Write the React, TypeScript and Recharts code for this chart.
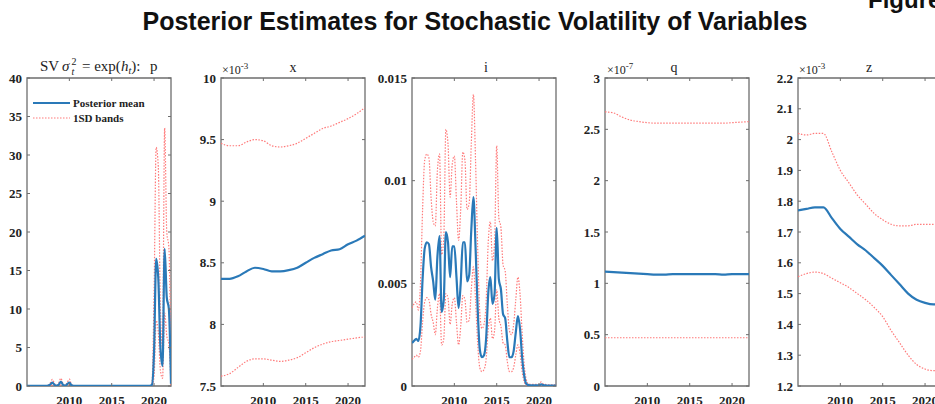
import React from 'react';
import { LineChart, Line, XAxis, YAxis, ReferenceArea, Legend } from 'recharts';

// ---------- categories ----------
const YEARS_Q = [
  2005, 2005.25, 2005.5, 2005.75, 2006, 2006.25, 2006.5, 2006.75,
  2007, 2007.25, 2007.5, 2007.75, 2008, 2008.25, 2008.5, 2008.75,
  2009, 2009.25, 2009.5, 2009.75, 2010, 2010.25, 2010.5, 2010.75,
  2011, 2011.25, 2011.5, 2011.75, 2012, 2012.25, 2012.5, 2012.75,
  2013, 2013.25, 2013.5, 2013.75, 2014, 2014.25, 2014.5, 2014.75,
  2015, 2015.25, 2015.5, 2015.75, 2016, 2016.25, 2016.5, 2016.75,
  2017, 2017.25, 2017.5, 2017.75, 2018, 2018.25, 2018.5, 2018.75,
  2019, 2019.25, 2019.5, 2019.75, 2020, 2020.25, 2020.5, 2020.75,
  2021, 2021.25, 2021.5, 2021.75, 2022,
];
const YEARS_A = [2005, 2006, 2007, 2008, 2009, 2010, 2011, 2012, 2013, 2014, 2015, 2016, 2017, 2018, 2019, 2020, 2021, 2022];
const X_TICKS = [2010, 2015, 2020];

// ---------- p ----------
const P_MEAN = [
  0.02, 0.02, 0.02, 0.02, 0.02, 0.02, 0.02, 0.02,
  0.02, 0.02, 0.05, 0.2, 0.45, 0.15, 0.05, 0.2,
  0.55, 0.15, 0.05, 0.25, 0.45, 0.1, 0.03, 0.02,
  0.02, 0.02, 0.02, 0.02, 0.02, 0.02, 0.02, 0.02,
  0.02, 0.02, 0.02, 0.02, 0.02, 0.02, 0.02, 0.02,
  0.02, 0.02, 0.02, 0.02, 0.02, 0.02, 0.02, 0.02,
  0.02, 0.02, 0.02, 0.02, 0.02, 0.02, 0.02, 0.02,
  0.02, 0.02, 0.03, 0.15, 4.5, 16.5, 14, 5,
  2.6, 17.8, 11.5, 10, 0.3,
];
const P_UP = [
  0.05, 0.05, 0.05, 0.05, 0.05, 0.05, 0.05, 0.05,
  0.05, 0.05, 0.1, 0.4, 0.85, 0.3, 0.1, 0.4,
  1.0, 0.3, 0.1, 0.45, 0.9, 0.2, 0.06, 0.05,
  0.05, 0.05, 0.05, 0.05, 0.05, 0.05, 0.05, 0.05,
  0.05, 0.05, 0.05, 0.05, 0.05, 0.05, 0.05, 0.05,
  0.05, 0.05, 0.05, 0.05, 0.05, 0.05, 0.05, 0.05,
  0.05, 0.05, 0.05, 0.05, 0.05, 0.05, 0.05, 0.05,
  0.05, 0.05, 0.06, 0.4, 12, 31, 28.5, 10,
  5, 33.5, 20, 18, 1,
];
const P_LO = [
  0.005, 0.005, 0.005, 0.005, 0.005, 0.005, 0.005, 0.005,
  0.005, 0.005, 0.01, 0.05, 0.12, 0.04, 0.01, 0.05,
  0.14, 0.04, 0.01, 0.06, 0.12, 0.03, 0.005, 0.005,
  0.005, 0.005, 0.005, 0.005, 0.005, 0.005, 0.005, 0.005,
  0.005, 0.005, 0.005, 0.005, 0.005, 0.005, 0.005, 0.005,
  0.005, 0.005, 0.005, 0.005, 0.005, 0.005, 0.005, 0.005,
  0.005, 0.005, 0.005, 0.005, 0.005, 0.005, 0.005, 0.005,
  0.005, 0.005, 0.006, 0.04, 1.2, 8.5, 7, 2,
  1.0, 9.5, 6.5, 5.5, 0.05,
];
const P_TICKS = [0, 5, 10, 15, 20, 25, 30, 35, 40];
const P_TICK_LABELS = ['0', '5', '10', '15', '20', '25', '30', '35', '40'];

// ---------- x (x 10^-3) ----------
const X_MEAN = [8.37, 8.37, 8.39, 8.43, 8.46, 8.45, 8.43, 8.43, 8.44, 8.46, 8.5, 8.54, 8.57, 8.6, 8.61, 8.65, 8.68, 8.72];
const X_UP = [9.47, 9.45, 9.45, 9.48, 9.5, 9.49, 9.45, 9.44, 9.45, 9.47, 9.51, 9.55, 9.59, 9.61, 9.64, 9.67, 9.71, 9.76];
const X_LO = [7.58, 7.6, 7.65, 7.7, 7.72, 7.72, 7.71, 7.7, 7.71, 7.73, 7.77, 7.81, 7.84, 7.86, 7.87, 7.88, 7.89, 7.9];
const X_YTICKS = [7.5, 8, 8.5, 9, 9.5, 10];
const X_YTICK_LABELS = ['7.5', '8', '8.5', '9', '9.5', '10'];

// ---------- i ----------
const I_MEAN = [
  0.0021, 0.0022, 0.0023, 0.0022, 0.0029, 0.0052, 0.0067, 0.007,
  0.0069, 0.0058, 0.0051, 0.0042, 0.0063, 0.0073, 0.0036, 0.0042,
  0.0075, 0.007, 0.0053, 0.0068, 0.0068, 0.0053, 0.0038, 0.005,
  0.007, 0.007, 0.0051, 0.0054, 0.0076, 0.0092, 0.0068, 0.0038,
  0.0018, 0.0014, 0.0015, 0.0023, 0.0045, 0.0053, 0.004, 0.0045,
  0.0077, 0.0052, 0.0047, 0.0035, 0.0033, 0.0022, 0.0014, 0.0014,
  0.0017, 0.0026, 0.0034, 0.0028, 0.0014, 0.0005, 0.0001, 0.00005,
  0.00003, 0.00003, 0.00003, 0.00003, 0.00003, 0.00008, 0.00005, 0.00003,
  0.00002, 0.00002, 0.00002, 0.00002, 0.00002,
];
const I_UP = [
  0.0038, 0.004, 0.0041, 0.0037, 0.005, 0.0086, 0.011, 0.0113,
  0.0111, 0.0092, 0.008, 0.0078, 0.0105, 0.0113, 0.0064, 0.0072,
  0.0125, 0.0118, 0.0092, 0.0108, 0.0112, 0.009, 0.0071, 0.0086,
  0.0114, 0.011, 0.0086, 0.0089, 0.0118, 0.0142, 0.011, 0.0068,
  0.0036, 0.0028, 0.003, 0.0041, 0.007, 0.008, 0.0061, 0.007,
  0.0117, 0.0082, 0.0077, 0.0059, 0.0056, 0.004, 0.0027, 0.0025,
  0.003, 0.0042, 0.0053, 0.0045, 0.0026, 0.001, 0.0003, 0.0001,
  0.00008, 0.00008, 0.00008, 0.00008, 0.00008, 0.0002, 0.0001, 0.00008,
  0.00005, 0.00005, 0.00005, 0.00005, 0.00005,
];
const I_LO = [
  0.0013, 0.0014, 0.0015, 0.0014, 0.0017, 0.0031, 0.0041, 0.0043,
  0.0042, 0.0035, 0.0031, 0.0025, 0.0038, 0.0045, 0.002, 0.0023,
  0.0045, 0.0043, 0.003, 0.004, 0.0043, 0.0031, 0.002, 0.0029,
  0.0044, 0.0042, 0.0031, 0.0032, 0.0047, 0.0058, 0.0042, 0.0021,
  0.0009, 0.0007, 0.0008, 0.0013, 0.0028, 0.0033, 0.0023, 0.0027,
  0.0047, 0.0033, 0.0029, 0.0021, 0.002, 0.0012, 0.0007, 0.0007,
  0.0009, 0.0015, 0.002, 0.0016, 0.0007, 0.0002, 0.00004, 0.00001,
  0.00001, 0.00001, 0.00001, 0.00001, 0.00001, 0.00001, 0.00001, 0.00001,
  0.00001, 0.00001, 0.00001, 0.00001, 0.00001,
];
const I_YTICKS = [0, 0.005, 0.01, 0.015];
const I_YTICK_LABELS = ['0', '0.005', '0.01', '0.015'];

// ---------- q (x 10^-7) ----------
const Q_MEAN = [1.115, 1.11, 1.105, 1.1, 1.095, 1.09, 1.085, 1.085, 1.09, 1.09, 1.09, 1.09, 1.09, 1.09, 1.085, 1.09, 1.09, 1.09];
const Q_UP = [2.67, 2.66, 2.62, 2.59, 2.575, 2.565, 2.56, 2.56, 2.56, 2.56, 2.56, 2.56, 2.56, 2.56, 2.56, 2.565, 2.57, 2.575];
const Q_LO = [0.47, 0.47, 0.47, 0.47, 0.47, 0.47, 0.47, 0.47, 0.47, 0.47, 0.47, 0.47, 0.47, 0.47, 0.47, 0.47, 0.47, 0.47];
const Q_YTICKS = [0, 0.5, 1, 1.5, 2, 2.5, 3];
const Q_YTICK_LABELS = ['0', '0.5', '1', '1.5', '2', '2.5', '3'];

// ---------- z (x 10^-3) ----------
const Z_MEAN = [1.77, 1.775, 1.78, 1.78, 1.745, 1.71, 1.685, 1.66, 1.64, 1.615, 1.59, 1.56, 1.53, 1.5, 1.48, 1.47, 1.465, 1.465];
const Z_UP = [2.02, 2.015, 2.02, 2.02, 1.96, 1.9, 1.86, 1.82, 1.79, 1.76, 1.74, 1.725, 1.72, 1.72, 1.725, 1.725, 1.725, 1.73];
const Z_LO = [1.555, 1.565, 1.57, 1.565, 1.55, 1.535, 1.52, 1.5, 1.48, 1.455, 1.425, 1.38, 1.34, 1.3, 1.27, 1.255, 1.25, 1.25];
const Z_YTICKS = [1.2, 1.3, 1.4, 1.5, 1.6, 1.7, 1.8, 1.9, 2, 2.1, 2.2];
const Z_YTICK_LABELS = ['1.2', '1.3', '1.4', '1.5', '1.6', '1.7', '1.8', '1.9', '2', '2.1', '2.2'];

// ---------- style constants ----------
const TOP = 78;
const PH = 308;
const PW = 144;
const YW = 40;
const AX = '#6e6e6e';
const BLUE = '#2a79b8';
const RED = '#ff7a7a';
const SERIF = "'Liberation Serif', 'Times New Roman', serif";
const SANS = "'Liberation Sans', Arial, sans-serif";
const TICK_FS = 13;

const build = (years: number[], m: number[], u: number[], l: number[]) =>
  years.map((t, k) => ({ t, mean: m[k], upper: u[k], lower: l[k] }));

type PanelProps = {
  plotLeft: number;
  data: any[];
  domain: [number, number];
  ticks: number[];
  labels: string[];
  legend?: boolean;
};

const XTick = (props: any) => {
  const { x, payload } = props;
  return (
    <g>
      <line x1={x} y1={TOP + PH} x2={x} y2={TOP + PH - 3} stroke={AX} strokeWidth={1} />
      <line x1={x} y1={TOP} x2={x} y2={TOP + 3} stroke={AX} strokeWidth={1} />
      <text x={x} y={405} textAnchor="middle" fontFamily={SERIF} fontWeight="bold" fontSize={TICK_FS} fill="#222">
        {payload.value}
      </text>
    </g>
  );
};

const makeYTick = (ticks: number[], labels: string[]) => (props: any) => {
  const { y, payload } = props;
  const idx = ticks.indexOf(payload.value);
  const label = idx >= 0 ? labels[idx] : String(payload.value);
  return (
    <g>
      <line x1={YW} y1={y} x2={YW + 3} y2={y} stroke={AX} strokeWidth={1} />
      <line x1={YW + PW - 3} y1={y} x2={YW + PW} y2={y} stroke={AX} strokeWidth={1} />
      <text x={YW - 5} y={y + 4.5} textAnchor="end" fontFamily={SERIF} fontWeight="bold" fontSize={TICK_FS} fill="#222">
        {label}
      </text>
    </g>
  );
};

const LegendContent = (props: any) => {
  const items = (props.payload || []).filter((e: any) => e.type !== 'none');
  return (
    <svg width={130} height={34} style={{ display: 'block' }}>
      {items.map((e: any, k: number) => (
        <g key={k}>
          <line
            x1={0}
            y1={6 + k * 15}
            x2={37}
            y2={6 + k * 15}
            stroke={e.color}
            strokeWidth={k === 0 ? 2 : 1.2}
            strokeDasharray={k === 0 ? undefined : '1.5 1.5'}
          />
          <text x={40} y={10 + k * 15} fontFamily={SERIF} fontWeight="bold" fontSize={11} fill="#222">
            {e.value}
          </text>
        </g>
      ))}
    </svg>
  );
};

const Panel = ({ plotLeft, data, domain, ticks, labels, legend }: PanelProps) => {
  const YTick = makeYTick(ticks, labels);
  return (
    <div style={{ position: 'absolute', left: plotLeft - YW, top: 0 }}>
      <LineChart
        width={YW + PW + 2}
        height={404}
        data={data}
        margin={{ top: TOP, right: 2, bottom: 0, left: 0 }}
      >
        <XAxis
          dataKey="t"
          type="number"
          domain={[2005, 2022]}
          ticks={X_TICKS}
          interval={0}
          tickSize={0}
          tickMargin={0}
          axisLine={false}
          tickLine={false}
          height={404 - TOP - PH}
          tick={<XTick />}
          allowDataOverflow
        />
        <YAxis
          type="number"
          domain={domain}
          ticks={ticks}
          interval={0}
          tickSize={0}
          tickMargin={0}
          axisLine={false}
          tickLine={false}
          width={YW}
          tick={<YTick />}
          allowDataOverflow
        />
        <Line
          dataKey="upper"
          name="1SD bands"
          type="monotone"
          stroke={RED}
          strokeWidth={1.2}
          strokeDasharray="1.5 1.5"
          dot={false}
          activeDot={false}
          isAnimationActive={false}
        />
        <Line
          dataKey="lower"
          name="1SD lower"
          type="monotone"
          stroke={RED}
          strokeWidth={1.2}
          strokeDasharray="1.5 1.5"
          dot={false}
          activeDot={false}
          legendType="none"
          isAnimationActive={false}
        />
        <Line
          dataKey="mean"
          name="Posterior mean"
          type="monotone"
          stroke={BLUE}
          strokeWidth={2.2}
          dot={false}
          activeDot={false}
          isAnimationActive={false}
        />
        <ReferenceArea
          x1={2005}
          x2={2022}
          y1={domain[0]}
          y2={domain[1]}
          fill="none"
          fillOpacity={0}
          stroke={AX}
          strokeWidth={1.3}
        />
        {legend && (
          <Legend
            layout="vertical"
            align="center"
            verticalAlign="middle"
            content={(p: any) => {
              const pl = [...(p.payload || [])];
              pl.sort((a: any, b: any) => (a.value === 'Posterior mean' ? -1 : b.value === 'Posterior mean' ? 1 : 0));
              return <LegendContent payload={pl} />;
            }}
            wrapperStyle={{ position: 'absolute', left: YW + 6, top: 97, width: 130, height: 34 }}
          />
        )}
      </LineChart>
    </div>
  );
};

const Scale = ({ x, exp }: { x: number; exp: string }) => (
  <text x={x} y={74} fontFamily={SERIF} fontSize={12} fill="#222">
    ×10<tspan fontSize={9} dy={-5}>{exp}</tspan>
  </text>
);

export default function App() {
  const rowsP = build(YEARS_Q, P_MEAN, P_UP, P_LO);
  const rowsX = build(YEARS_A, X_MEAN, X_UP, X_LO);
  const rowsI = build(YEARS_Q, I_MEAN, I_UP, I_LO);
  const rowsQ = build(YEARS_A, Q_MEAN, Q_UP, Q_LO);
  const rowsZ = build(YEARS_A, Z_MEAN, Z_UP, Z_LO);
  return (
    <div style={{ position: 'fixed', left: 0, top: 0, width: 935, height: 404, overflow: 'hidden', background: '#fff' }}>
      <Panel plotLeft={27} data={rowsP} domain={[0, 40]} ticks={P_TICKS} labels={P_TICK_LABELS} legend />
      <Panel plotLeft={221} data={rowsX} domain={[7.5, 10]} ticks={X_YTICKS} labels={X_YTICK_LABELS} />
      <Panel plotLeft={412} data={rowsI} domain={[0, 0.015]} ticks={I_YTICKS} labels={I_YTICK_LABELS} />
      <Panel plotLeft={605} data={rowsQ} domain={[0, 3]} ticks={Q_YTICKS} labels={Q_YTICK_LABELS} />
      <Panel plotLeft={798} data={rowsZ} domain={[1.2, 2.2]} ticks={Z_YTICKS} labels={Z_YTICK_LABELS} />
      <svg width={935} height={404} style={{ position: 'absolute', left: 0, top: 0, pointerEvents: 'none' }}>
        <text x={868} y={8} fontFamily={SANS} fontWeight="bold" fontSize={24} fill="#111">Figure</text>
        <text x={475} y={30} textAnchor="middle" fontFamily={SANS} fontWeight="bold" fontSize={25} fill="#111">
          Posterior Estimates for Stochastic Volatility of Variables
        </text>
        <text y={71} fontFamily={SERIF} fontSize={15} fill="#222">
          <tspan x={40}>SV</tspan>
          <tspan x={62} fontStyle="italic">σ</tspan>
          <tspan x={71.5} y={65} fontSize={10}>2</tspan>
          <tspan x={71.5} y={75} fontSize={10} fontStyle="italic">t</tspan>
          <tspan x={82} y={71}>= exp(</tspan>
          <tspan fontStyle="italic">h</tspan>
          <tspan fontSize={10} fontStyle="italic" dy={3}>t</tspan>
          <tspan dy={-3}>):</tspan>
          <tspan x={150}>p</tspan>
        </text>
        <text x={293} y={72} textAnchor="middle" fontFamily={SERIF} fontSize={14} fill="#222">x</text>
        <text x={486} y={72} textAnchor="middle" fontFamily={SERIF} fontSize={14} fill="#222">i</text>
        <text x={674} y={72} textAnchor="middle" fontFamily={SERIF} fontSize={14} fill="#222">q</text>
        <text x={869} y={72} textAnchor="middle" fontFamily={SERIF} fontSize={14} fill="#222">z</text>
        <Scale x={222} exp="-3" />
        <Scale x={607} exp="-7" />
        <Scale x={799} exp="-3" />
      </svg>
    </div>
  );
}
